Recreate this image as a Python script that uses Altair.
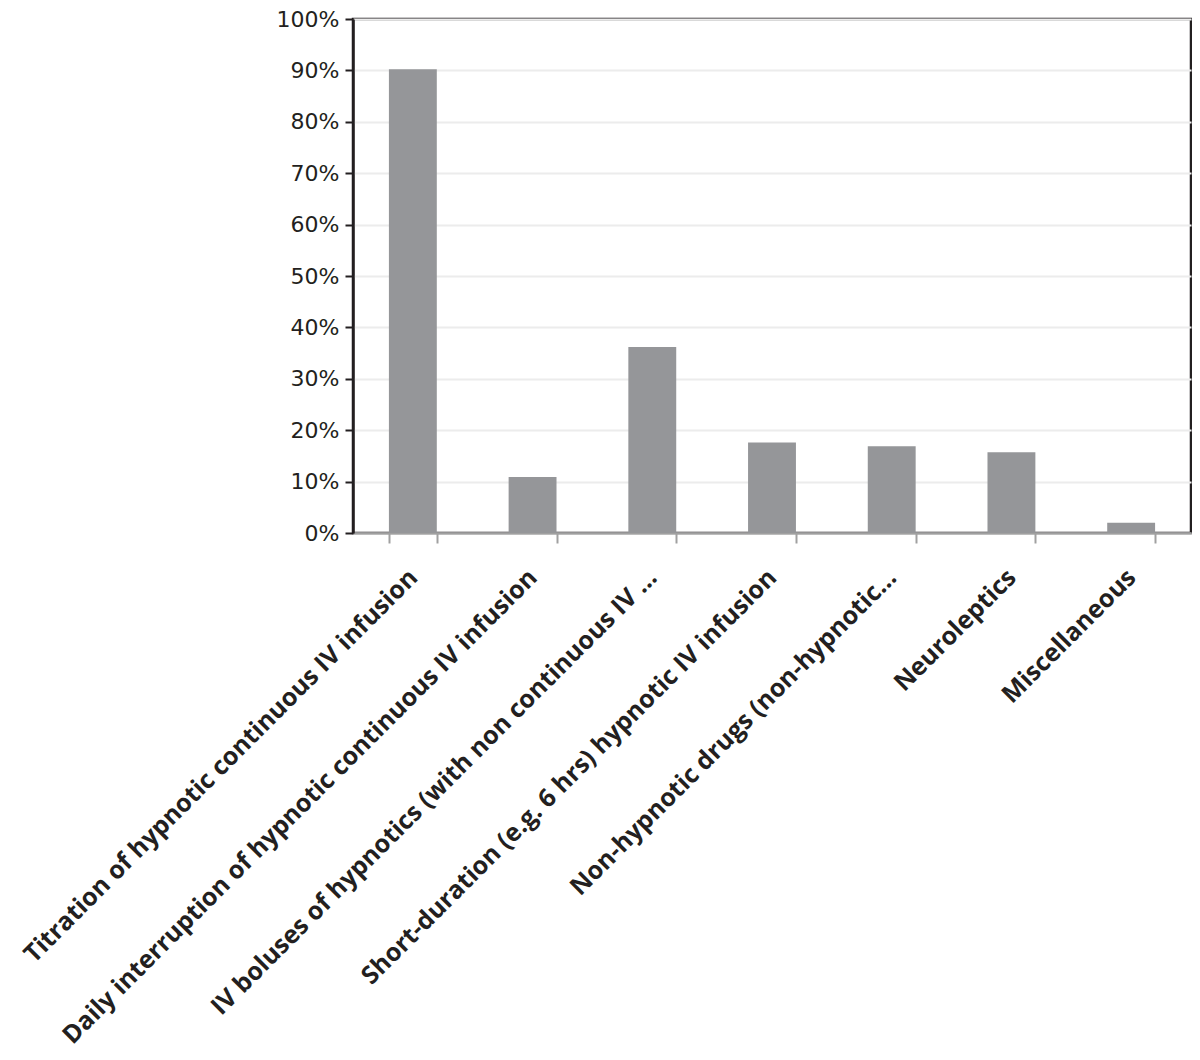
import altair as alt
import pandas as pd

categories = [
    "Titration of hypnotic continuous IV infusion",
    "Daily interruption of hypnotic continuous IV infusion",
    "IV boluses of hypnotics (with non continuous IV \u2026",
    "Short-duration (e.g. 6 hrs) hypnotic IV infusion",
    "Non-hypnotic drugs (non-hypnotic\u2026",
    "Neuroleptics",
    "Miscellaneous",
]
values = [90.2, 10.9, 36.2, 17.6, 16.9, 15.7, 2.0]
y_ticks = [0, 10, 20, 30, 40, 50, 60, 70, 80, 90, 100]

df = pd.DataFrame({"category": categories, "value": values})

chart = (
    alt.Chart(df)
    .mark_bar(color="#959699")
    .encode(
        x=alt.X(
            "category:N",
            sort=categories,
            title=None,
            scale=alt.Scale(paddingInner=0.6, paddingOuter=0.3),
            axis=alt.Axis(
                labelAngle=-45,
                labelAlign="right",
                labelBaseline="middle",
                labelFont="Open Sans",
                labelFontWeight="bold",
                labelFontSize=25,
                labelColor="#231f20",
                labelLimit=1000,
                labelPadding=30,
                tickBand="extent",
                tickColor="#a0a0a0",
                tickWidth=2,
                tickSize=10,
                domainColor="#a0a0a0",
                domainWidth=2,
                grid=False,
            ),
        ),
        y=alt.Y(
            "value:Q",
            title=None,
            scale=alt.Scale(domain=[0, 100]),
            axis=alt.Axis(
                values=y_ticks,
                labelExpr="datum.value + '%'",
                labelFont="DejaVu Sans",
                labelFontSize=22,
                labelColor="#231f20",
                labelPadding=6,
                tickColor="#231f20",
                tickWidth=2,
                tickSize=8,
                domainColor="#231f20",
                domainWidth=2.5,
                gridColor="#ececec",
                gridWidth=2,
            ),
        ),
    )
    .properties(
        width=838,
        height=514,
        autosize=alt.AutoSizeParams(type="none"),
        padding={"left": 345, "top": 11, "right": 1, "bottom": 519},
    )
    .configure_view(stroke="#231f20", strokeWidth=2.5)
)

chart.save("out.html", embed_options={"renderer": "svg", "actions": False})
